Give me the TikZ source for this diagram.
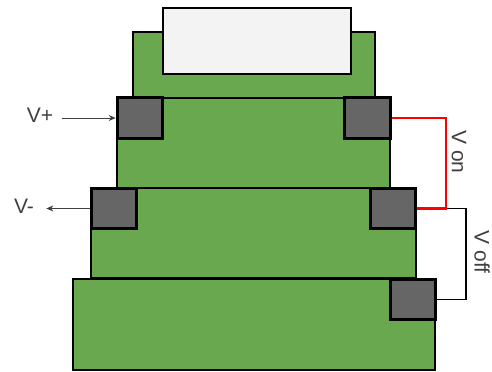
\documentclass[tikz,border=0pt]{standalone}
\usepackage{fontspec}
\usepackage{xcolor}
\setmainfont{Liberation Sans}
\definecolor{layergreen}{HTML}{6AA84F}
\definecolor{padgray}{HTML}{666666}
\definecolor{capwhite}{HTML}{F3F3F3}
\definecolor{labelgray}{HTML}{404040}
\usetikzlibrary{arrows.meta}
\tikzset{
  layer/.style={draw=black, fill=layergreen, line width=1.1pt},
  capbox/.style={draw=black, fill=capwhite, line width=1.1pt},
  pad/.style={draw=black, fill=padgray, line width=1.5pt, rectangle, inner sep=0pt, minimum width=22.8pt, minimum height=20.2pt},
  label/.style={text=labelgray, font=\fontsize{10.5}{10.5}\selectfont, inner sep=1.5pt},
  lead/.style={-{Stealth[length=3.5pt,width=3pt]}, line width=0.45pt, draw=labelgray},
  wireon/.style={draw=red, line width=1.3pt},
  wireoff/.style={draw=black, line width=0.6pt}
}

\begin{document}
\begin{tikzpicture}[x=0.5pt,y=-0.5pt]
\useasboundingbox (0,0) rectangle (492,371);

\draw [layer] (133,32) rectangle (375,98);
\draw [capbox] (163,8) rectangle (351,74);
\draw [layer] (117,98) rectangle (390,188);
\draw [layer] (91,188) rectangle (416,278);
\draw [layer] (73,279) rectangle (435,370);

\node [pad] (padtl) at (140,118) {};
\node [pad] (padtr) at (367.5,118) {};
\node [pad] (padml) at (114,208.5) {};
\node [pad] (padmr) at (393,208.5) {};
\node [pad] (padbr) at (413,299.5) {};

\node [label, inner xsep=4pt] (vplus) at (40,115) {V+};
\node [label, inner xsep=6pt] (vminus) at (24,206) {V-};
\node [label, rotate=-90] (von) at (459,152) {V on};
\node [label, rotate=-90] (voff) at (482,252) {V off};

\coordinate (railon) at (446,118);
\coordinate (railoff) at (466,208.5);

\draw [wireoff] (padmr.east) -- (railoff) |- (padbr.east);
\draw [wireon] (padtr.east) -- (railon) |- (padmr.east);
\draw [lead] (vplus.east |- padtl.west) -- (padtl.west);
\draw [lead] (padml.west) -- (vminus.east |- padml.west);
\end{tikzpicture}
\end{document}
